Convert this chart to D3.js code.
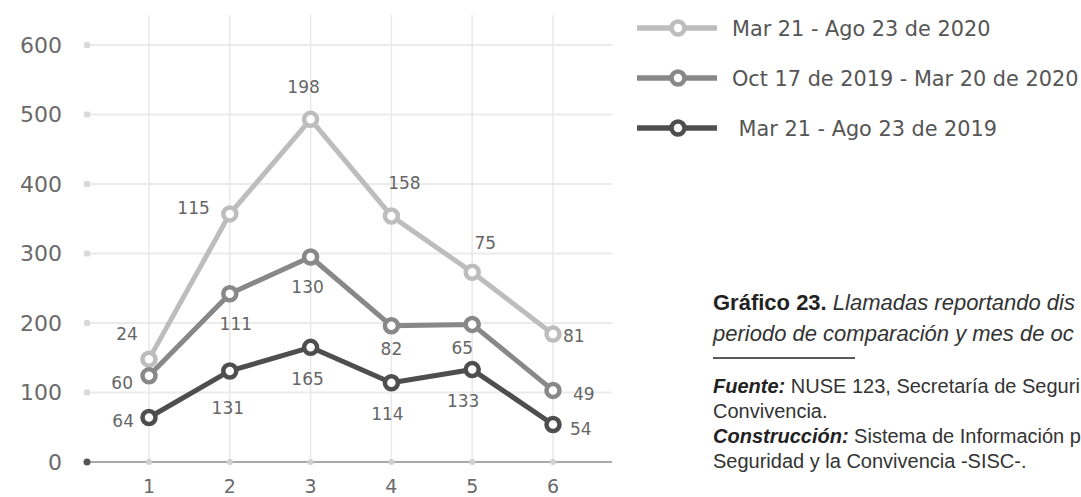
<!DOCTYPE html>
<html>
<head>
<meta charset="utf-8">
<script src="https://cdn.jsdelivr.net/npm/d3@7"></script>
<style>
    html, body { margin: 0; padding: 0; background: #fff; }
    svg { display: block; }
</style>
</head>
<body>
<div id="chart-container"></div>
<script>
// Months of occurrence (x axis)
const months = ['1', '2', '3', '4', '5', '6'];

// One array per comparison period, bottom of the stack first
const periods = [
    'Mar 21 - Ago 23 de 2019',
    'Oct 17 de 2019 - Mar 20 de 2020',
    'Mar 21 - Ago 23 de 2020'
];
const calls2019 = [64, 131, 165, 114, 133, 54];
const callsOct = [60, 111, 130, 82, 65, 49];
const calls2020 = [24, 115, 198, 158, 75, 81];

const yTicks = [0, 100, 200, 300, 400, 500, 600];

// Legend is listed top-down, i.e. reverse of the stack
const legendOrder = [2, 1, 0];

// Caption block; the source image is cropped at the right edge, so the
// lines stop where the picture does
const captionTitle = ['Gráfico 23.', ' Llamadas reportando dis'];
const captionTitle2 = 'periodo de comparación y mes de oc';
const captionNotes = [
    ['Fuente:', ' NUSE 123, Secretaría de Seguri'],
    ['', 'Convivencia.'],
    ['Construcción:', ' Sistema de Información p'],
    ['', 'Seguridad y la Convivencia -SISC-.']
];

const WIDTH = 1081;
const HEIGHT = 497;
const COLORS = ['#4e4e4e', '#888888', '#bdbdbd'];

// Where each value label sits relative to its point: [dx, dy, anchor]
const labelOffsets = [
    [[-15, 3, 'end'], [-2, 37, 'middle'], [-3, 32, 'middle'], [-4, 31, 'middle'], [-9, 31, 'middle'], [17, 4, 'start']],
    [[-16, 7, 'end'], [6, 30, 'middle'], [-3, 30, 'middle'], [0, 23, 'middle'], [-10, 23, 'middle'], [20, 3, 'start']],
    [[-22, -25, 'middle'], [-20, -6, 'end'], [-7, -32, 'middle'], [13, -33, 'middle'], [13, -29, 'middle'], [10, 2, 'start']]
];

function drawChart() {
    const svg = d3.select('#chart-container').append('svg')
        .attr('width', WIDTH)
        .attr('height', HEIGHT)
        .attr('font-family', '"DejaVu Sans", sans-serif');

    const table = months.map((m, i) => ({
        month: m, 0: calls2019[i], 1: callsOct[i], 2: calls2020[i]
    }));
    const series = d3.stack().keys([0, 1, 2])(table);

    const xScale = d3.scalePoint()
        .domain(months)
        .range([149, 553]);
    const yScale = d3.scaleLinear()
        .domain([0, 600])
        .range([462, 45]);

    const gridLeft = 87, gridRight = 612;

    // Grid
    svg.append('g')
        .selectAll('line')
        .data(yTicks.filter(t => t > 0))
        .join('line')
            .attr('x1', gridLeft)
            .attr('x2', gridRight)
            .attr('y1', d => yScale(d))
            .attr('y2', d => yScale(d))
            .attr('stroke', '#ebebeb')
            .attr('stroke-width', 2);
    svg.append('g')
        .selectAll('line')
        .data(months)
        .join('line')
            .attr('x1', d => xScale(d))
            .attr('x2', d => xScale(d))
            .attr('y1', 15)
            .attr('y2', yScale(0))
            .attr('stroke', '#e8e8e8')
            .attr('stroke-width', 1.5);

    // Baseline
    svg.append('line')
        .attr('x1', gridLeft)
        .attr('x2', gridRight)
        .attr('y1', yScale(0))
        .attr('y2', yScale(0))
        .attr('stroke', '#8c8c8c')
        .attr('stroke-width', 1.5);

    // Y ticks: markers at the left end of each grid line, then the labels
    const yAxis = svg.append('g');
    yAxis.selectAll('rect')
        .data(yTicks.filter(t => t > 0))
        .join('rect')
            .attr('x', gridLeft - 3)
            .attr('y', d => yScale(d) - 3)
            .attr('width', 6)
            .attr('height', 6)
            .attr('rx', 1.5)
            .attr('fill', '#d9d9d9');
    yAxis.append('circle')
        .attr('cx', gridLeft)
        .attr('cy', yScale(0))
        .attr('r', 3.5)
        .attr('fill', '#555');
    yAxis.selectAll('text')
        .data(yTicks)
        .join('text')
            .attr('x', 62)
            .attr('y', d => yScale(d))
            .attr('dy', '0.36em')
            .attr('text-anchor', 'end')
            .attr('font-size', 22)
            .attr('fill', '#6a6a6a')
            .text(d => d);

    // X ticks
    const xAxis = svg.append('g');
    xAxis.selectAll('circle')
        .data(months)
        .join('circle')
            .attr('cx', d => xScale(d))
            .attr('cy', yScale(0))
            .attr('r', 3)
            .attr('fill', '#d0d0d0');
    xAxis.selectAll('text')
        .data(months)
        .join('text')
            .attr('x', d => xScale(d))
            .attr('y', 486)
            .attr('dy', '0.36em')
            .attr('text-anchor', 'middle')
            .attr('font-size', 19)
            .attr('fill', '#6a6a6a')
            .text(d => d);

    // Lines, drawn top of the stack first so darker ones sit on top
    const line = d3.line()
        .x(d => xScale(d.data.month))
        .y(d => yScale(d[1]));

    const layers = svg.append('g')
        .selectAll('g')
        .data(series.slice().reverse())
        .join('g');
    layers.append('path')
        .attr('d', line)
        .attr('fill', 'none')
        .attr('stroke', s => COLORS[s.key])
        .attr('stroke-width', 5)
        .attr('stroke-linejoin', 'round');
    layers.selectAll('circle')
        .data(s => s.map(d => ({ d, key: s.key })))
        .join('circle')
            .attr('cx', p => xScale(p.d.data.month))
            .attr('cy', p => yScale(p.d[1]))
            .attr('r', 6.5)
            .attr('fill', '#fff')
            .attr('stroke', p => COLORS[p.key])
            .attr('stroke-width', 4.5);

    // Value labels show each period's own count, not the stacked total
    layers.selectAll('text')
        .data(s => s.map((d, i) => ({ d, i, key: s.key })))
        .join('text')
            .attr('x', p => xScale(p.d.data.month) + labelOffsets[p.key][p.i][0])
            .attr('y', p => yScale(p.d[1]) + labelOffsets[p.key][p.i][1])
            .attr('dy', '0.36em')
            .attr('text-anchor', p => labelOffsets[p.key][p.i][2])
            .attr('font-size', 17)
            .attr('fill', '#666')
            .text(p => p.d.data[p.key]);

    drawLegend(svg);
    drawCaption(svg);
}

function drawLegend(svg) {
    const ROW = 50;
    const rows = svg.append('g')
        .attr('transform', 'translate(637, 28)')
        .selectAll('g')
        .data(legendOrder)
        .join('g')
            .attr('transform', (d, i) => `translate(0, ${i * ROW})`);
    rows.append('line')
        .attr('x1', 0)
        .attr('x2', 80)
        .attr('stroke', d => COLORS[d])
        .attr('stroke-width', 5.5);
    rows.append('circle')
        .attr('cx', 41)
        .attr('r', 6.5)
        .attr('fill', '#fff')
        .attr('stroke', d => COLORS[d])
        .attr('stroke-width', 4.5);
    rows.append('text')
        .attr('x', 95)
        .attr('dy', '0.36em')
        .attr('font-size', 20.8)
        .attr('fill', '#555')
        .style('white-space', 'pre')
        .text(d => (d === 0 ? ' ' : '') + periods[d]);
}

function drawCaption(svg) {
    const g = svg.append('g')
        .attr('font-family', '"Liberation Sans", Arial, sans-serif')
        .attr('fill', '#333');
    const X = 713;

    const title = g.append('text')
        .attr('x', X)
        .attr('y', 310)
        .attr('font-size', 22);
    title.append('tspan')
        .attr('font-weight', 'bold')
        .attr('fill', '#222')
        .text(captionTitle[0]);
    title.append('tspan')
        .attr('font-style', 'italic')
        .style('white-space', 'pre')
        .text(captionTitle[1]);
    g.append('text')
        .attr('x', X)
        .attr('y', 341)
        .attr('font-size', 22)
        .attr('font-style', 'italic')
        .text(captionTitle2);

    g.append('line')
        .attr('x1', X)
        .attr('x2', 855)
        .attr('y1', 358)
        .attr('y2', 358)
        .attr('stroke', '#222')
        .attr('stroke-width', 1.5);

    const lines = g.selectAll('text.note')
        .data(captionNotes)
        .join('text')
            .attr('class', 'note')
            .attr('x', X)
            .attr('y', (d, i) => 393 + i * 25)
            .attr('font-size', 20);
    lines.append('tspan')
        .attr('font-weight', 'bold')
        .attr('font-style', 'italic')
        .attr('fill', '#222')
        .text(d => d[0]);
    lines.append('tspan')
        .style('white-space', 'pre')
        .text(d => d[1]);
}

drawChart();
</script>
</body>
</html>
